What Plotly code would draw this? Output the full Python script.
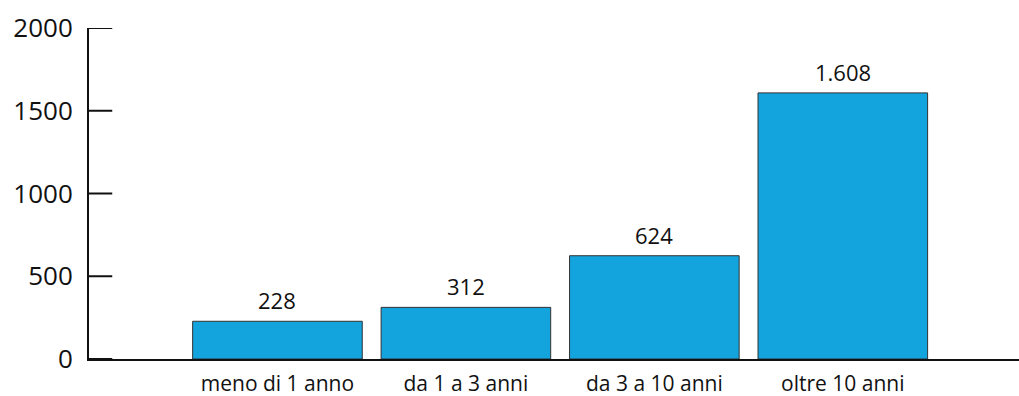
import plotly.graph_objects as go

# Durata (fasce) e numero di casi
categorie = ["meno di 1 anno", "da 1 a 3 anni", "da 3 a 10 anni", "oltre 10 anni"]
valori = [228, 312, 624, 1608]
etichette = ["228", "312", "624", "1.608"]
y_ticks = [0, 500, 1000, 1500, 2000]

FONT = "Open Sans"
INK = "#111111"

fig = go.Figure(
    go.Bar(
        x=categorie,
        y=valori,
        width=0.9,
        marker=dict(color="#13A3DD", line=dict(color="#333333", width=1)),
        hoverinfo="x+y",
    )
)

for cat, val, lab in zip(categorie, valori, etichette):
    fig.add_annotation(
        x=cat, y=val, text=lab, showarrow=False,
        yanchor="bottom", yshift=4,
        font=dict(family=FONT, size=22, color=INK),
    )

# short tick marks on the inner side of the value axis
for v in y_ticks:
    fig.add_shape(
        type="line", xref="paper", yref="y",
        x0=0, x1=0.025, y0=v, y1=v,
        line=dict(color=INK, width=2), layer="above",
    )

fig.update_layout(
    width=1019, height=396,
    margin=dict(l=89, r=0, t=28, b=37, autoexpand=False),
    paper_bgcolor="white", plot_bgcolor="white",
    showlegend=False,
    font=dict(family=FONT, color=INK),
)

fig.update_xaxes(
    type="category",
    range=[-1, 3.935],
    showline=True, linecolor=INK, linewidth=2,
    ticks="", showgrid=False, zeroline=False, automargin=False,
    tickfont=dict(family=FONT, size=21, color=INK),
    ticklabelstandoff=5,
)

fig.update_yaxes(
    range=[0, 2000],
    tickmode="array",
    tickvals=y_ticks,
    ticktext=[str(v) for v in y_ticks],
    showline=True, linecolor=INK, linewidth=2,
    ticks="", showgrid=False, zeroline=False, automargin=False,
    tickfont=dict(family=FONT, size=26, color=INK),
    ticklabelstandoff=9,
)

fig.write_html("out.html")
